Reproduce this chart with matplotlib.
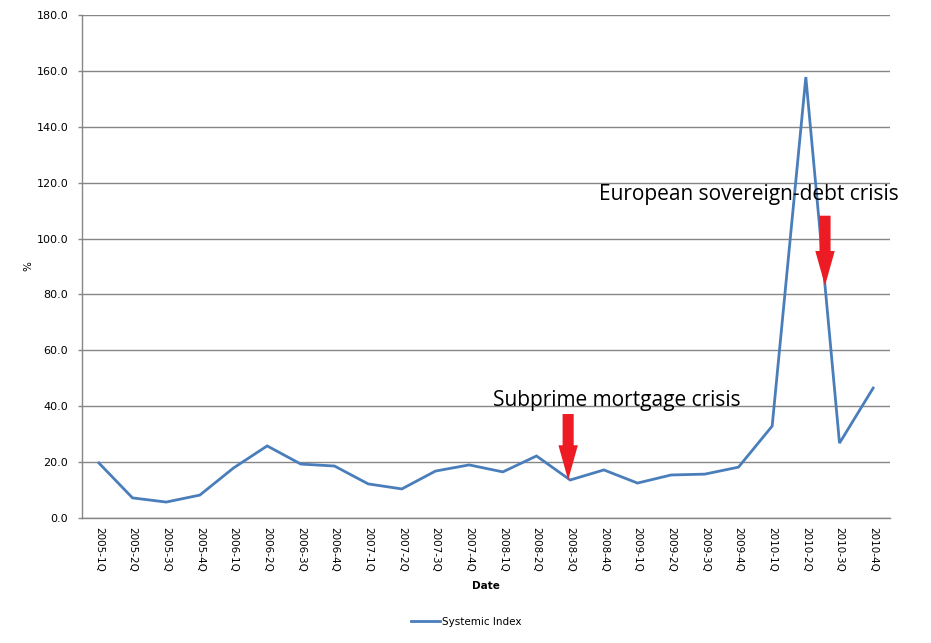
import matplotlib
matplotlib.use("Agg")
import matplotlib.pyplot as plt
import numpy as np

quarters = ["2005-1Q", "2005-2Q", "2005-3Q", "2005-4Q",
            "2006-1Q", "2006-2Q", "2006-3Q", "2006-4Q",
            "2007-1Q", "2007-2Q", "2007-3Q", "2007-4Q",
            "2008-1Q", "2008-2Q", "2008-3Q", "2008-4Q",
            "2009-1Q", "2009-2Q", "2009-3Q", "2009-4Q",
            "2010-1Q", "2010-2Q", "2010-3Q", "2010-4Q"]
systemic_index = [19.7, 7.2, 5.7, 8.2,
                  17.9, 25.8, 19.3, 18.6,
                  12.2, 10.4, 16.8, 19.0,
                  16.5, 22.2, 13.6, 17.2,
                  12.5, 15.4, 15.7, 18.2,
                  32.9, 157.8, 26.8, 46.5]
yticks = [0, 20, 40, 60, 80, 100, 120, 140, 160, 180]

series_label = "Systemic Index"
subprime_label = "Subprime mortgage crisis"
euro_label = "European sovereign-debt crisis"

LINE = "#4A7EBB"
GRID = "#868686"
RED = "#ED1C24"

fig = plt.figure(figsize=(9.31, 6.43), dpi=100)
ax = fig.add_axes([82/931, 1-518/643, 808/931, 503/643])

x = np.arange(len(quarters))
ax.plot(x, systemic_index, color=LINE, lw=2.0, label=series_label,
        solid_joinstyle="miter")

ax.set_xlim(-0.5, len(quarters) - 0.5)
ax.set_ylim(0, 180)
ax.set_yticks(yticks)
ax.set_yticklabels([f"{v:.1f}" for v in yticks])
ax.set_xticks(x)
ax.set_xticklabels(quarters, rotation=270, fontsize=7.5, family="DejaVu Sans")
ax.tick_params(axis="x", length=0, pad=6.5)
ax.tick_params(axis="y", length=3, width=1, color=GRID, pad=7, labelsize=8)

ax.grid(axis="y", color=GRID, lw=1)
ax.set_axisbelow(True)
for s in ["top", "right"]:
    ax.spines[s].set_visible(False)
for s in ["left", "bottom"]:
    ax.spines[s].set_color(GRID)
    ax.spines[s].set_linewidth(1)

ax.set_ylabel("%", fontsize=7.5)
ax.yaxis.set_label_coords(-0.06, 0.5)
ax.set_xlabel("Date", fontsize=7.5, fontweight="bold")
ax.xaxis.set_label_coords(0.5, -0.125)

arrow_kw = dict(width=8, headwidth=14, headlength=25, shrink=0,
                color=RED, lw=0)

# Subprime arrow pointing at 2008-3Q
i_sub = quarters.index("2008-3Q")
ax.annotate("", xy=(i_sub - 0.06, systemic_index[i_sub]), xycoords="data",
            xytext=(0, 47.5), textcoords="offset points",
            arrowprops=arrow_kw)
ax.text(11.7, 42.2, subprime_label, fontsize=15, family="Open Sans",
        va="center", ha="left")

# European arrow pointing at the drop after 2010-2Q
i_eu = quarters.index("2010-2Q")
xe = i_eu + 0.57
ye = np.interp(xe, x, systemic_index)
ax.annotate("", xy=(xe, ye), xycoords="data",
            xytext=(0, 50.4), textcoords="offset points",
            arrowprops=arrow_kw)
ax.text(14.85, 115.6, euro_label, fontsize=15, family="Open Sans",
        va="center", ha="left")

fig.legend(loc="center", bbox_to_anchor=(466/931, 1-622/643), frameon=False,
           fontsize=7.5, handlelength=2.8, handletextpad=0.2)

fig.savefig("out.png", dpi=100)
